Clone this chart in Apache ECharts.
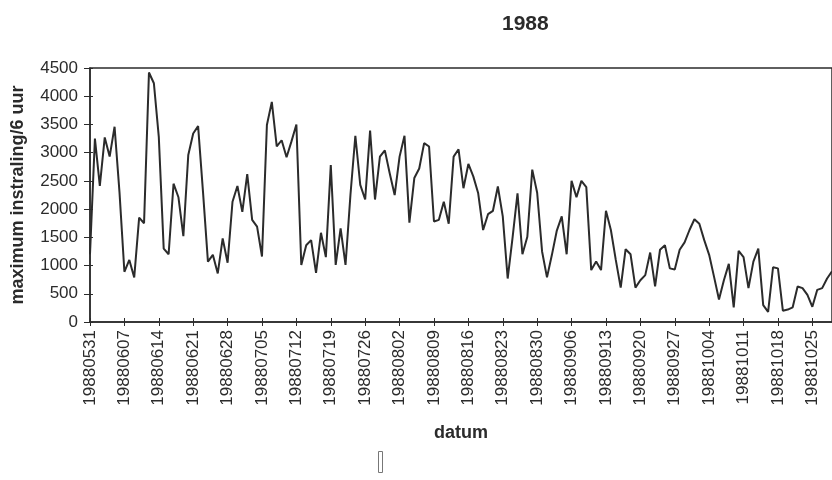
<!DOCTYPE html>
<html>
<head>
<meta charset="utf-8">
<script src="https://cdn.jsdelivr.net/npm/echarts@6/dist/echarts.min.js"></script>
<style>
html,body{margin:0;padding:0;background:#fff;}
#chart{width:832px;height:480px;}
</style>
</head>
<body>
<div id="chart"></div>
<script>
var categories = [
"19880531",
"19880601","19880602","19880603","19880604","19880605","19880606","19880607","19880608","19880609","19880610",
"19880611","19880612","19880613","19880614","19880615","19880616","19880617","19880618","19880619","19880620",
"19880621","19880622","19880623","19880624","19880625","19880626","19880627","19880628","19880629","19880630",
"19880701","19880702","19880703","19880704","19880705","19880706","19880707","19880708","19880709","19880710",
"19880711","19880712","19880713","19880714","19880715","19880716","19880717","19880718","19880719","19880720",
"19880721","19880722","19880723","19880724","19880725","19880726","19880727","19880728","19880729","19880730","19880731",
"19880801","19880802","19880803","19880804","19880805","19880806","19880807","19880808","19880809","19880810",
"19880811","19880812","19880813","19880814","19880815","19880816","19880817","19880818","19880819","19880820",
"19880821","19880822","19880823","19880824","19880825","19880826","19880827","19880828","19880829","19880830","19880831",
"19880901","19880902","19880903","19880904","19880905","19880906","19880907","19880908","19880909","19880910",
"19880911","19880912","19880913","19880914","19880915","19880916","19880917","19880918","19880919","19880920",
"19880921","19880922","19880923","19880924","19880925","19880926","19880927","19880928","19880929","19880930",
"19881001","19881002","19881003","19881004","19881005","19881006","19881007","19881008","19881009","19881010",
"19881011","19881012","19881013","19881014","19881015","19881016","19881017","19881018","19881019","19881020",
"19881021","19881022","19881023","19881024","19881025","19881026","19881027","19881028","19881029"
];

var instraling = [
1200,
3250,2410,3270,2930,3460,2300,890,1100,790,1850,
1750,4420,4230,3280,1300,1200,2450,2210,1520,2960,
3340,3470,2300,1070,1190,860,1480,1050,2130,2410,
1950,2620,1810,1690,1160,3490,3900,3110,3220,2920,
3200,3500,1010,1360,1450,870,1580,1150,2780,1010,
1660,1010,2250,3300,2430,2170,3390,2170,2930,3040,2630,
2250,2930,3300,1760,2550,2720,3170,3110,1780,1810,
2130,1740,2930,3060,2370,2800,2580,2280,1630,1910,
1970,2400,1870,770,1500,2280,1200,1510,2700,2290,1250,
790,1190,1620,1870,1200,2500,2210,2500,2390,920,
1070,920,1970,1630,1100,610,1290,1200,610,740,
830,1230,630,1280,1360,950,930,1280,1410,1630,
1820,1740,1450,1190,800,400,740,1030,260,1260,
1150,600,1070,1300,300,180,970,950,200,220,
260,630,600,480,270,570,600,770,900
];

var yTicks = [0,500,1000,1500,2000,2500,3000,3500,4000,4500];

var titleText = "1988";
var yName = "maximum instraling/6 uur";
var xName = "datum";

var chart = echarts.init(document.getElementById('chart'), null, {renderer:'canvas'});
var font = "'Liberation Sans', Arial, sans-serif";
var dark = '#2b2b2b';

chart.setOption({
  backgroundColor: '#ffffff',
  animation: false,
  title: {
    text: titleText,
    left: 497, top: 9,
    textStyle: {fontFamily: font, fontWeight: 'bold', fontSize: 21, color: dark}
  },
  grid: {
    left: 90, top: 68, right: -4, bottom: 158,
    containLabel: false,
    show: true, borderColor: dark, borderWidth: 1.5, backgroundColor: 'transparent'
  },
  xAxis: [{
    type: 'category',
    data: categories,
    boundaryGap: false,
    name: xName,
    nameLocation: 'middle',
    nameGap: 102,
    nameTextStyle: {fontFamily: font, fontWeight: 'bold', fontSize: 18, color: dark},
    axisLine: {show: true, lineStyle: {color: dark, width: 1.5}},
    axisTick: {show: true, interval: 6, length: 4, lineStyle: {color: dark}},
    axisLabel: {
      interval: 6, rotate: 90, margin: 8,
      fontFamily: font, fontSize: 17, color: dark
    },
    splitLine: {show: false}
  }, {
    type: 'category',
    data: categories,
    boundaryGap: false,
    position: 'bottom',
    offset: 0,
    axisLine: {show: false},
    axisTick: {show: true, inside: true, interval: 6, length: 4, lineStyle: {color: dark}},
    axisLabel: {show: false},
    splitLine: {show: false}
  }],
  yAxis: [{
    type: 'value',
    min: 0, max: 4500, interval: 500,
    name: yName,
    nameLocation: 'middle',
    nameRotate: 90,
    nameGap: 63,
    nameTextStyle: {fontFamily: font, fontWeight: 'bold', fontSize: 18, color: dark},
    axisLine: {show: true, lineStyle: {color: dark, width: 1.5}},
    axisTick: {show: true, length: 6, lineStyle: {color: dark}},
    axisLabel: {
      margin: 12, fontFamily: font, fontSize: 17, color: dark,
      formatter: function (v) { return yTicks.indexOf(v) >= 0 ? String(v) : ''; }
    },
    splitLine: {show: false}
  }, {
    type: 'value',
    min: 0, max: 4500, interval: 500,
    position: 'left',
    offset: 0,
    axisLine: {show: false},
    axisTick: {show: true, inside: true, length: 3, lineStyle: {color: dark}},
    axisLabel: {show: false},
    splitLine: {show: false}
  }],
  series: [{
    type: 'line',
    xAxisIndex: 0,
    yAxisIndex: 0,
    data: instraling,
    showSymbol: false,
    symbol: 'none',
    lineStyle: {color: dark, width: 2},
    clip: false
  }],
  graphic: [{
    type: 'rect',
    left: 376, top: 449,
    shape: {width: 4, height: 21},
    style: {fill: 'none', stroke: '#777', lineWidth: 1}
  }]
});
</script>
</body>
</html>
